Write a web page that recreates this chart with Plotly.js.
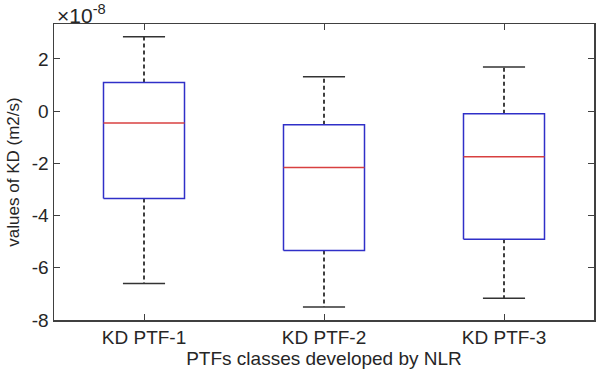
<!DOCTYPE html>
<html>
<head>
<meta charset="utf-8">
<script src="https://cdn.plot.ly/plotly-3.0.1.min.js"></script>
<style>html,body{margin:0;padding:0;background:#fff;}#chart{width:600px;height:370px;}</style>
</head>
<body>
<div id="chart"></div>
<script>
// Values in units of 1e-8 m2/s
var categories = ["KD PTF-1", "KD PTF-2", "KD PTF-3"];
var upperWhisker = [2.85, 1.32, 1.69];
var q3 = [1.10, -0.52, -0.10];
var median = [-0.45, -2.16, -1.75];
var q1 = [-3.35, -5.34, -4.91];
var lowerWhisker = [-6.60, -7.50, -7.17];
var yTicks = [-8, -6, -4, -2, 0, 2];
var exponentLabel = "×10<sup>-8</sup>";

var boxHalf = 0.225, capHalf = 0.117;
var bx = [], by = [], mx = [], my = [], wx = [], wy = [], cx = [], cy = [];
categories.forEach(function (c, i) {
  var x = i + 1;
  bx.push(x - boxHalf, x + boxHalf, x + boxHalf, x - boxHalf, x - boxHalf, null);
  by.push(q1[i], q1[i], q3[i], q3[i], q1[i], null);
  mx.push(x - boxHalf, x + boxHalf, null);
  my.push(median[i], median[i], null);
  wx.push(x, x, null, x, x, null);
  wy.push(q3[i], upperWhisker[i], null, q1[i], lowerWhisker[i], null);
  cx.push(x - capHalf, x + capHalf, null, x - capHalf, x + capHalf, null);
  cy.push(upperWhisker[i], upperWhisker[i], null, lowerWhisker[i], lowerWhisker[i], null);
});

var traces = [
  {x: wx, y: wy, mode: "lines", line: {color: "#000", width: 1.5, dash: "4px,3px"}, hoverinfo: "skip"},
  {x: cx, y: cy, mode: "lines", line: {color: "#333", width: 1.5}, hoverinfo: "skip"},
  {x: bx, y: by, mode: "lines", line: {color: "#3030c8", width: 1.5}, hoverinfo: "skip"},
  {x: mx, y: my, mode: "lines", line: {color: "#d84040", width: 1.5}, hoverinfo: "skip"}
];

var fontFam = "Liberation Sans, Arial, sans-serif";
var layout = {
  width: 600, height: 370,
  margin: {l: 54, r: 6, t: 24, b: 50},
  paper_bgcolor: "#fff", plot_bgcolor: "#fff",
  showlegend: false,
  font: {family: fontFam, color: "#262626", size: 19},
  xaxis: {
    range: [0.5, 3.5], tickvals: [1, 2, 3], ticktext: categories,
    ticks: "inside", ticklen: 6, tickcolor: "#404040", tickwidth: 1,
    showline: true, linecolor: "#404040", linewidth: 1.5, mirror: "ticks",
    showgrid: false, zeroline: false,
    tickfont: {size: 19, color: "#262626"},
    title: {text: "PTFs classes developed by NLR", font: {size: 19, color: "#262626"}, standoff: 1}
  },
  yaxis: {
    range: [-8, 3.34], tickvals: yTicks, ticktext: yTicks.map(String),
    ticks: "inside", ticklen: 6, tickcolor: "#404040", tickwidth: 1,
    showline: true, linecolor: "#404040", linewidth: 1.5, mirror: "ticks",
    showgrid: false, zeroline: false,
    tickfont: {size: 19, color: "#262626"},
    title: {text: "values of KD (m2/s)", font: {size: 17, color: "#262626"}, standoff: 8}
  },
  annotations: [{
    text: exponentLabel, xref: "paper", yref: "paper", x: 0, y: 1,
    xanchor: "left", yanchor: "bottom", showarrow: false, xshift: 1, yshift: -5,
    font: {size: 21, color: "#262626", family: fontFam}
  }]
};

Plotly.newPlot("chart", traces, layout, {displayModeBar: false, staticPlot: true});
</script>
</body>
</html>
